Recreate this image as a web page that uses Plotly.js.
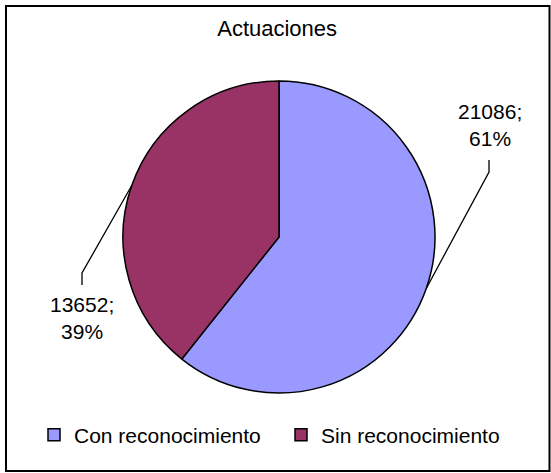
<!DOCTYPE html>
<html>
<head>
<meta charset="utf-8">
<script src="https://cdn.plot.ly/plotly-3.0.1.min.js"></script>
<style>html,body{margin:0;padding:0;background:#fff;}#chart{width:551px;height:473px;}</style>
</head>
<body>
<div id="chart"></div>
<script>
const categories = ["Con reconocimiento", "Sin reconocimiento"];
const values = [21086, 13652];
const colors = ["#9999FF", "#993366"];
const chartTitle = "Actuaciones";

const W = 551, H = 473;
const cx = 279, cy = 237, R = 156;   // pie centre / radius in px
const FONT = "Liberation Sans, Arial, sans-serif";

// label anchor positions (px) for outside labels & leader elbows
const labelPos = [
  {tx: 490, ty: 125, ex: 489, ey: 172, ey2: 160},
  {tx: 82,  ty: 318, ex: 82,  ey: 273, ey2: 285}
];

const total = values.reduce((a, b) => a + b, 0);
const px2x = x => x / W;
const px2y = y => 1 - y / H;

const shapes = [{
  type: "rect", xref: "paper", yref: "paper",
  x0: px2x(6), x1: px2x(549.5), y0: px2y(471), y1: px2y(6),
  line: {color: "#000", width: 2}, fillcolor: "rgba(0,0,0,0)"
}];
const annotations = [];

let cum = 0;
values.forEach((v, i) => {
  const mid = (cum + v / 2) / total * 2 * Math.PI; // clockwise from 12 o'clock
  cum += v;
  const sx = cx + R * Math.sin(mid);
  const sy = cy - R * Math.cos(mid);
  const lp = labelPos[i];
  shapes.push({
    type: "path", xref: "paper", yref: "paper",
    path: `M${px2x(sx)},${px2y(sy)} L${px2x(lp.ex)},${px2y(lp.ey)} L${px2x(lp.ex)},${px2y(lp.ey2)}`,
    line: {color: "#000", width: 1.3}
  });
  const pct = Math.round(v / total * 100);
  annotations.push({
    xref: "paper", yref: "paper", x: px2x(lp.tx), y: px2y(lp.ty),
    xanchor: "center", yanchor: "middle", showarrow: false,
    text: v + ";<br>" + pct + "%", align: "center",
    font: {family: FONT, size: 21, color: "#000"}
  });
});

const trace = {
  type: "pie",
  labels: categories,
  values: values,
  sort: false,
  direction: "clockwise",
  rotation: 0,
  textinfo: "none",
  hoverinfo: "label+value+percent",
  marker: {colors: colors, line: {color: "#000", width: 1.5}},
  domain: {x: [px2x(cx - R), px2x(cx + R)], y: [px2y(cy + R), px2y(cy - R)]}
};

const layout = {
  width: W, height: H, autosize: false,
  margin: {l: 0, r: 0, t: 0, b: 0},
  paper_bgcolor: "#fff",
  title: {text: chartTitle, font: {family: FONT, size: 22, color: "#000"},
          x: 0.503, xanchor: "center", y: 1 - 28 / H, yanchor: "middle", yref: "container"},
  showlegend: true,
  legend: {orientation: "h", x: px2x(34), xanchor: "left", y: px2y(435), yanchor: "middle",
           font: {family: FONT, size: 21, color: "#000"}, itemwidth: 30,
           entrywidth: 202, entrywidthmode: "pixels",
           bgcolor: "rgba(0,0,0,0)"},
  shapes: shapes,
  annotations: annotations
};

Plotly.newPlot("chart", [trace], layout, {displayModeBar: false, staticPlot: true});
</script>
</body>
</html>
